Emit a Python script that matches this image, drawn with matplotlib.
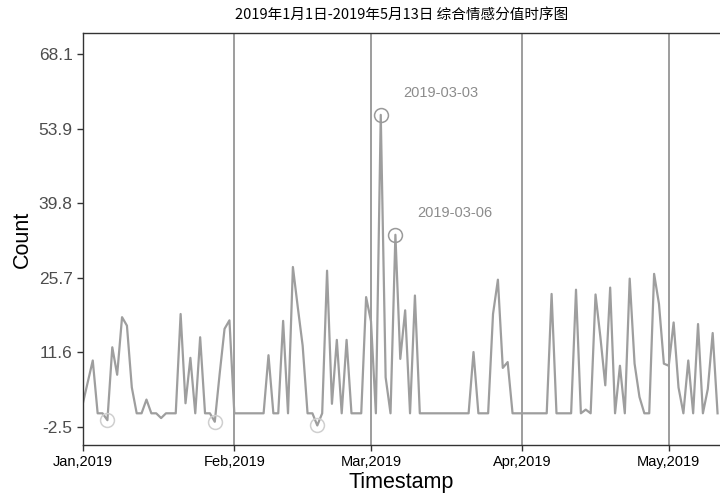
import pandas as pd
import numpy as np
import matplotlib.pyplot as plt
import matplotlib.dates as mdates

# 每日综合情感分值 (2019-01-01 起)
jan = [2, 6, 10, 0, 0, -1.3, 12.5, 7.3, 18.2, 16.6, 4.9, 0, 0, 2.6, 0, 0,
       -0.9, 0, 0, 0, 18.8, 1.9, 10.5, 0, 14.4, 0, 0, -1.6, 7.5, 16.0, 17.6]
feb = [0, 0, 0, 0, 0, 0, 0, 11.0, 0, 0, 17.5, 0, 27.7, 20.1, 12.8, 0, 0,
       -2.3, 0, 27.0, 1.8, 13.9, 0, 13.9, 0, 0, 0, 22.0]
mar = [17.4, 0, 56.5, 6.8, 0, 33.8, 10.3, 19.5, 0, 22.3, 0, 0, 0, 0, 0, 0,
       0, 0, 0, 0, 0, 11.6, 0, 0, 0, 18.8, 25.3, 8.6, 9.7, 0, 0]
apr = [0, 0, 0, 0, 0, 0, 22.6, 0, 0, 0, 0, 23.4, 0, 0.7, 0, 22.5, 14.4,
       5.3, 23.8, 0, 9.0, 0, 25.5, 9.4, 3.1, 0, 0, 26.4, 20.7, 9.4]
may = [9.0, 17.2, 4.9, 0, 10.0, 0, 16.9, 0, 4.6, 15.2, 0]

# 标注点
low_dates = ['2019-01-06', '2019-01-28', '2019-02-18']
high_dates = ['2019-03-03', '2019-03-06']

yticks = [-2.5, 11.6, 25.7, 39.8, 53.9, 68.1]
month_starts = ['2019-01-01', '2019-02-01', '2019-03-01', '2019-04-01', '2019-05-01']

values = jan + feb + mar + apr + may
s = pd.Series(values, index=pd.date_range('2019-01-01', periods=len(values), freq='D'))

fig = plt.figure(figsize=(7.2, 4.99), dpi=100)
ax = fig.add_axes([83 / 720, 1 - 445 / 499, 1 - 83 / 720, (445 - 33) / 499])

for d in month_starts:
    ax.axvline(pd.Timestamp(d), color='#8c8c8c', lw=1.2, zorder=1)

ax.plot(s.index, s.values, color='#9e9e9e', lw=1.6, zorder=2)

lows = s[pd.to_datetime(low_dates)]
ax.plot(lows.index, lows.values, 'o', ms=10, mfc='none', mec='#cfcfcf', mew=1.1, zorder=3)
highs = s[pd.to_datetime(high_dates)]
ax.plot(highs.index, highs.values, 'o', ms=10, mfc='none', mec='#9a9a9a', mew=1.1, zorder=3)
for d, v in highs.items():
    ax.annotate(d.strftime('%Y-%m-%d'), (d, v), xytext=(43, 16), textcoords='offset points',
                ha='center', va='center', fontsize=10.5, color='#8c8c8c', family='Liberation Sans')

ax.set_xlim(pd.Timestamp('2019-01-01'), pd.Timestamp('2019-01-01') + pd.Timedelta(days=130.5))
ax.set_ylim(-6.0, 72.0)
ax.set_yticks(yticks)
ax.set_yticklabels([f'{t:.1f}' for t in yticks], fontsize=12.5, color='#4d4d4d', family='Liberation Sans')
ax.set_xticks(pd.to_datetime(month_starts))
ax.xaxis.set_major_formatter(mdates.DateFormatter('%b,%Y'))
for lab in ax.get_xticklabels():
    lab.set_fontsize(10.5)
    lab.set_family('Liberation Sans')
ax.tick_params(axis='both', direction='out', length=4, width=1, color='#333333')

for side in ['top', 'left', 'bottom']:
    ax.spines[side].set_color('#333333')
    ax.spines[side].set_linewidth(1)
ax.spines['right'].set_visible(False)

ax.set_xlabel('Timestamp', fontsize=15.5, family='Liberation Sans', labelpad=2)
ax.set_ylabel('Count', fontsize=15.5, family='Liberation Sans', labelpad=4)
ax.set_title('2019年1月1日-2019年5月13日 综合情感分值时序图', fontsize=10.5,
             family=['Noto Sans CJK SC', 'DejaVu Sans'], pad=10)

fig.savefig('out.png', dpi=100)
